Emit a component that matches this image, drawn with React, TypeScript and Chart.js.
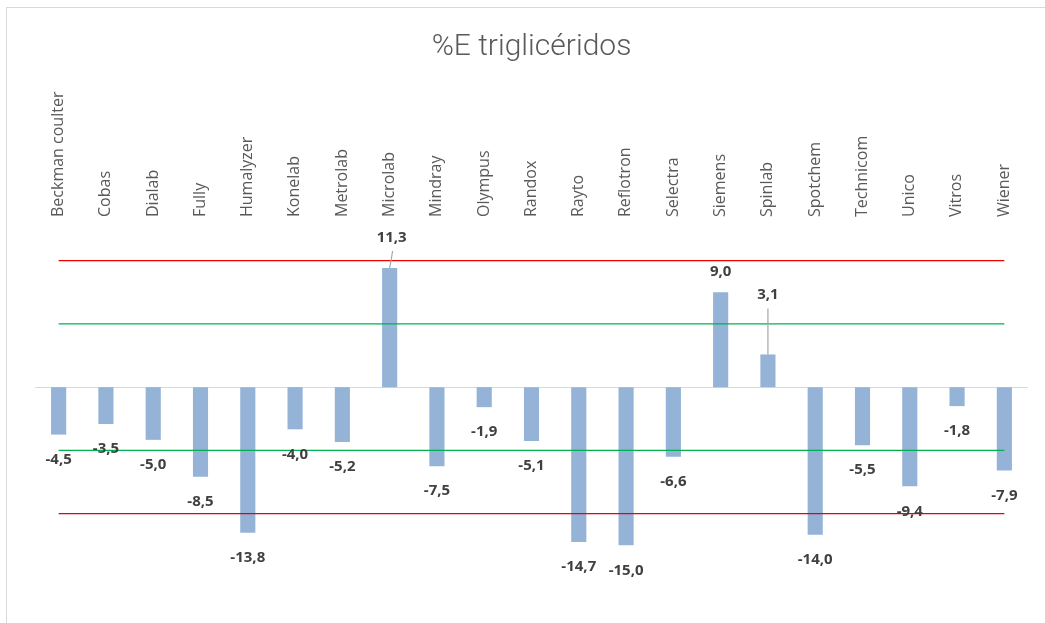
import React, { useEffect, useRef } from "react";
import { Chart, registerables } from "chart.js";

Chart.register(...registerables);

const categories = [
  "Beckman coulter", "Cobas", "Dialab", "Fully", "Humalyzer", "Konelab", "Metrolab",
  "Microlab", "Mindray", "Olympus", "Randox", "Rayto", "Reflotron", "Selectra",
  "Siemens", "Spinlab", "Spotchem", "Technicom", "Unico", "Vitros", "Wiener",
];
const errorValues = [
  -4.5, -3.5, -5.0, -8.5, -13.8, -4.0, -5.2, 11.3, -7.5, -1.9, -5.1, -14.7, -15.0,
  -6.6, 9.0, 3.1, -14.0, -5.5, -9.4, -1.8, -7.9,
];
const outerLimit = 12;
const innerLimit = 6;
const upperRed = categories.map(() => outerLimit);
const lowerRed = categories.map(() => -outerLimit);
const upperGreen = categories.map(() => innerLimit);
const lowerGreen = categories.map(() => -innerLimit);
const titleText = "%E triglicéridos";

const fmt = (v: number) => v.toFixed(1).replace(".", ",");

const extrasPlugin = {
  id: "extras",
  beforeDatasetsDraw(chart: any) {
    const { ctx, chartArea, scales } = chart;
    const y0 = Math.round(scales.y.getPixelForValue(0)) + 0.5;
    ctx.save();
    ctx.strokeStyle = "#d9d9d9";
    ctx.lineWidth = 1;
    ctx.beginPath();
    ctx.moveTo(chartArea.left, y0);
    ctx.lineTo(chartArea.right, y0);
    ctx.stroke();
    ctx.restore();
  },
  afterDatasetsDraw(chart: any) {
    const { ctx } = chart;
    const meta = chart.getDatasetMeta(4);
    ctx.save();
    ctx.font = "bold 15px 'Open Sans'";
    ctx.fillStyle = "#404040";
    ctx.textAlign = "center";
    ctx.textBaseline = "middle";
    meta.data.forEach((bar: any, i: number) => {
      const v = errorValues[i];
      let ly = v < 0 ? bar.y + 25 : bar.y - 21;
      let lx = bar.x;
      if (categories[i] === "Microlab") {
        ly = bar.y - 30;
        lx = bar.x + 2;
        ctx.strokeStyle = "#a6a6a6";
        ctx.lineWidth = 1.2;
        ctx.beginPath();
        ctx.moveTo(lx + 1, ly + 13);
        ctx.lineTo(bar.x, bar.y);
        ctx.stroke();
      }
      if (categories[i] === "Spinlab") {
        ly = bar.y - 60;
        ctx.strokeStyle = "#a6a6a6";
        ctx.lineWidth = 1.2;
        ctx.beginPath();
        ctx.moveTo(bar.x, ly + 14);
        ctx.lineTo(bar.x, bar.y);
        ctx.stroke();
      }
      ctx.fillText(fmt(v), lx, ly);
    });
    ctx.restore();
  },
};

export default function App() {
  const ref = useRef<HTMLCanvasElement>(null);
  useEffect(() => {
    if (!ref.current) return;
    const lineDs = (data: number[], color: string) => ({
      type: "line" as const,
      data,
      borderColor: color,
      borderWidth: 1.4,
      pointRadius: 0,
      fill: false,
      order: 0,
    });
    const chart = new Chart(ref.current, {
      type: "bar",
      data: {
        labels: categories,
        datasets: [
          lineDs(upperRed, "#ee0000") as any,
          lineDs(lowerRed, "#ee0000") as any,
          lineDs(upperGreen, "#00b050") as any,
          lineDs(lowerGreen, "#00b050") as any,
          {
            type: "bar",
            data: errorValues,
            backgroundColor: "#95b3d7",
            barPercentage: 0.32,
            categoryPercentage: 1,
            order: 1,
          },
        ],
      },
      options: {
        animation: false,
        responsive: false,
        devicePixelRatio: 1,
        layout: { padding: { left: 35, right: 17, bottom: 25, top: 0 } },
        plugins: {
          legend: { display: false },
          tooltip: { enabled: false },
          title: {
            display: true,
            text: titleText,
            color: "#595959",
            font: { family: "Roboto", weight: "300", size: 30 },
            padding: { top: 29, bottom: 0 },
          },
        },
        scales: {
          x: {
            position: "top",
            grid: { display: false, drawTicks: false },
            border: { display: false },
            ticks: {
              autoSkip: false,
              minRotation: 90,
              maxRotation: 90,
              padding: 12,
              labelOffset: 19,
              color: "#595959",
              font: { family: "'Open Sans'", size: 16 },
            },
            afterFit: (scale: any) => {
              scale.height = 164;
            },
          },
          y: {
            display: false,
            min: -20,
            max: 15,
          },
        },
      },
      plugins: [extrasPlugin],
    });
    return () => chart.destroy();
  }, []);
  return (
    <div style={{ position: "absolute", left: 0, top: 0, width: 1045, height: 623, background: "#fff" }}>
      <canvas ref={ref} width={1045} height={623} style={{ position: "absolute", left: 0, top: 0 }} />
      <div
        style={{
          position: "absolute",
          left: 6,
          top: 7,
          width: 1045,
          height: 623,
          borderLeft: "1px solid #d9d9d9",
          borderTop: "1px solid #d9d9d9",
          pointerEvents: "none",
        }}
      />
    </div>
  );
}
